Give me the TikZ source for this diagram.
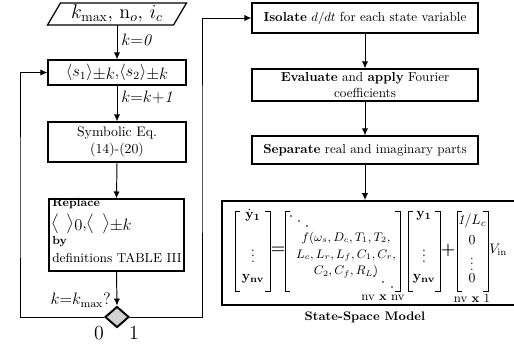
\documentclass[tikz,border=0pt]{standalone}
\usepackage{amsmath}
\usetikzlibrary{shapes.geometric,arrows.meta}
\def\pxu{0.725pt}
\tikzset{
 box/.style={draw, line width=0.9pt, minimum width={138*\pxu}, inner sep=1pt, align=center},
 rbox/.style={draw, line width=1pt, minimum width={226*\pxu}, align=center, font=\fontsize{9.5}{11.5}\selectfont, inner sep=1pt},
 arr/.style={line width=0.7pt, -{Latex[length=5pt,width=4.5pt]}},
 lbl/.style={font=\large, inner sep=0pt},
 brk/.style={line width=0.7pt},
 txt/.style={inner sep=0pt},
 dotf/.style={fill=black},
}
\begin{document}
\begin{tikzpicture}[x=\pxu,y=-\pxu]
\useasboundingbox (0,0) rectangle (514,343);
% left column
\draw[line width=0.9pt] (47.5,25)--(60.5,3)--(186.5,3)--(173.5,25)--cycle;
\node[minimum height={22*\pxu}, minimum width={110*\pxu}, inner sep=0pt] (inp) at (117,14) {\Large $k_{\max}$, n$_o$, $i_c$};
\node[box, minimum height={25*\pxu}] (b1) at (117,72.5) {\large $\langle s_1\rangle$\raisebox{-2pt}{$\pm k$},$\langle s_2\rangle$\raisebox{-2pt}{$\pm k$}};
\node[box, minimum height={40*\pxu}] (b2) at (117,142) {Symbolic Eq.\\(14)-(20)};
\node[box, minimum width={135*\pxu}, minimum height={72*\pxu}] (b3) at (116.5,235) {};
\node[txt, anchor=west, font=\fontsize{8.5}{10}\selectfont\bfseries] (t1) at (52,204) {Replace};
\node[txt, anchor=west, font=\large] (t2) at (51,224) {$\big\langle\;\,\big\rangle$\raisebox{-2pt}{0},$\big\langle\;\,\big\rangle$\raisebox{-1.5pt}{$\pm k$}};
\node[txt, anchor=west, font=\fontsize{8.5}{10}\selectfont\bfseries] (t3) at (52,242) {by};
\node[txt, anchor=west, font=\fontsize{9.4}{11}\selectfont] (t4) at (52,258) {definitions TABLE III};
\node[diamond, draw, line width=1.4pt, fill=black!18, minimum width={24*\pxu}, minimum height={21*\pxu}, inner sep=0pt] (dec) at (117,317) {};
\draw[arr] (inp.south) -- (b1.north);
\draw[arr] (b1.south) -- (b2.north);
\draw[arr] (b2.south) -- (b3.north);
\draw[arr] (b3.south) -- (dec.north);
\node[lbl, anchor=west] (l0) at (121,40) {$k$=\textit{0}};
\node[lbl, anchor=west] (l1) at (121,97) {$k$=$k$+\textit{1}};
\node[lbl, anchor=east] (l2) at (111,300) {$k$=$k_{\max}$?};
\node[txt, font=\Large] (z0) at (99,333) {0};
\node[txt, font=\Large] (z1) at (134,333) {1};
\coordinate (loopL) at (20,200);
\coordinate (loopR) at (202,150);
\draw[arr] (dec.west) -| (loopL) |- (b1.west);
% right column
\node[rbox, minimum height={30*\pxu}] (r1) at (365,18) {\textbf{Isolate} $d/dt$ for each state variable};
\node[rbox, minimum height={32*\pxu}] (r2) at (365,85) {\textbf{Evaluate} and \textbf{apply} Fourier\\coefficients};
\node[rbox, minimum height={28*\pxu}] (r3) at (365,150) {\textbf{Separate} real and imaginary parts};
\node[draw, line width=1.3pt, minimum width={294*\pxu}, minimum height={104*\pxu}, inner sep=0pt] (ss) at (369,253) {};
\draw[arr] (dec.east) -| (loopR) |- (r1.west);
\draw[arr] (r1.south) -- (r2.north);
\draw[arr] (r2.south) -- (r3.north);
\draw[arr] (r3.south) -- (r3.south |- ss.north);
\node[txt, font=\small\bfseries] (ssl) at (365,317) {State-Space Model};
% brackets
\draw[brk] (240,211)--(235,211)--(235,291)--(240,291);
\draw[brk] (265,211)--(270,211)--(270,291)--(265,291);
\draw[brk] (290,211)--(285,211)--(285,291)--(290,291);
\draw[brk] (395,211)--(400,211)--(400,291)--(395,291);
\draw[brk] (413,211)--(408,211)--(408,291)--(413,291);
\draw[brk] (435,211)--(440,211)--(440,291)--(435,291);
\draw[brk] (462,211)--(457,211)--(457,291)--(462,291);
\draw[brk] (483,211)--(488,211)--(488,291)--(483,291);
% vector 1
\node[txt] (ya) at (253,215) {$\dot{\mathbf{y}}_{\mathbf{1}}$};
\node[txt] (yb) at (253,252) {$\vdots$};
\node[txt] (yc) at (253,279) {$\mathbf{y}_{\mathbf{nv}}$};
\node[txt, font=\large\bfseries] (eq) at (278,250) {=};
% big matrix
\fill[dotf] (291,216) circle (0.9);
\fill[dotf] (299,221) circle (0.9);
\fill[dotf] (307,226) circle (0.9);
\fill[dotf] (374,276) circle (0.9);
\fill[dotf] (383,282) circle (0.9);
\fill[dotf] (392,287) circle (0.9);
\node[txt, align=center, font=\small] (fm) at (346,255) {$f(\omega_s,D_c,T_1,T_2,$\\[1pt]$L_c,L_r,L_f,C_1,C_r,$\\[1pt]$C_2,C_f,R_L)$};
\node[txt, font=\small] (n1) at (383,298) {nv {\bfseries x} nv};
% vector 2
\node[txt] (ya2) at (424,216) {$\mathbf{y}_{\mathbf{1}}$};
\node[txt] (yb2) at (424,252) {$\vdots$};
\node[txt] (yc2) at (424,279) {$\mathbf{y}_{\mathbf{nv}}$};
\node[txt, font=\large\bfseries] (pl) at (448,250) {+};
% vector 3
\node[txt] (v1) at (472,221) {\textit{1}/$L_c$};
\node[txt] (v2) at (472,240) {0};
\node[txt, font=\small] (v3) at (472,260) {$\vdots$};
\node[txt] (v4) at (472,278) {0};
\node[txt, font=\small] (n2) at (472,298) {nv {\bfseries x} 1};
\node[txt, anchor=west] (vin) at (489,250) {$V_{\mathrm{in}}$};
\end{tikzpicture}
\end{document}
